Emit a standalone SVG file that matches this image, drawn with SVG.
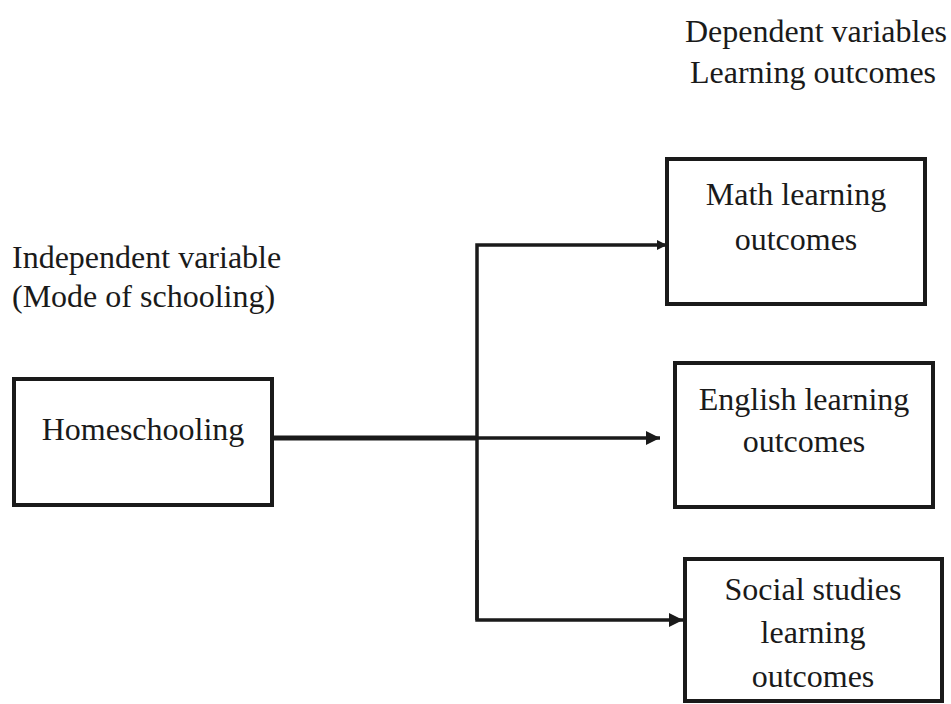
<svg xmlns="http://www.w3.org/2000/svg" width="951" height="704" viewBox="0 0 951 704">
<style>
.t{font-family:"Liberation Serif","Times New Roman",serif;font-size:32px;fill:#1a1a1a}
.c{text-anchor:middle}
.box{fill:#fff;stroke:#1a1a1a;stroke-width:4}
.ln{fill:none;stroke:#1a1a1a;stroke-width:3.5}
</style>
<defs>
<marker id="ah" markerWidth="10" markerHeight="10" refX="9" refY="5" orient="auto" markerUnits="userSpaceOnUse" viewBox="0 0 10 10">
<path d="M0,0 L10,5 L0,10 z" fill="#1a1a1a"/>
</marker>
<marker id="ah2" markerWidth="14" markerHeight="14" refX="14" refY="7" orient="auto" markerUnits="userSpaceOnUse" viewBox="0 0 14 14">
<path d="M0,0 L14,7 L0,14 z" fill="#1a1a1a"/>
</marker>
</defs>
<rect width="951" height="704" fill="#fff"/>
<g id="labels">
<text class="t c" x="816" y="42">Dependent variables</text>
<text class="t c" x="813" y="83">Learning outcomes</text>
<text class="t" x="12" y="268">Independent variable</text>
<text class="t" x="12" y="307">(Mode of schooling)</text>
</g>
<g id="connectors">
<line x1="274" y1="438" x2="478" y2="438" stroke="#1a1a1a" stroke-width="5"/>
<polyline class="ln" points="477,620 477,245 666,245" marker-end="url(#ah)"/>
<line class="ln" x1="477" y1="438" x2="660" y2="438" stroke-width="2" marker-end="url(#ah2)"/>
<polyline class="ln" points="477,540 477,620 683,620" marker-end="url(#ah2)"/>
</g>
<g id="homeschooling">
<rect class="box" x="14" y="379" width="258" height="126"/>
<text class="t c" x="143" y="440">Homeschooling</text>
</g>
<g id="math">
<rect class="box" x="667" y="159" width="258" height="145"/>
<text class="t c" x="796" y="205">Math learning</text>
<text class="t c" x="796" y="250">outcomes</text>
</g>
<g id="english">
<rect class="box" x="675" y="363" width="258" height="144"/>
<text class="t c" x="804" y="410">English learning</text>
<text class="t c" x="804" y="452">outcomes</text>
</g>
<g id="social">
<rect class="box" x="685" y="559" width="257" height="142"/>
<text class="t c" x="813" y="600">Social studies</text>
<text class="t c" x="813" y="643">learning</text>
<text class="t c" x="813" y="687">outcomes</text>
</g>
</svg>
